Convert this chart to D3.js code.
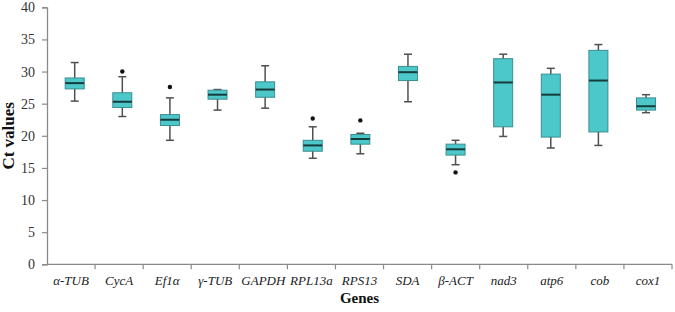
<!DOCTYPE html>
<html>
<head>
<meta charset="utf-8">
<script src="https://cdn.jsdelivr.net/npm/d3@7"></script>
<style>
  body { margin: 0; background: #fff; }
  svg { display: block; }
</style>
</head>
<body>
<script>
// Ct value boxplots per gene

const genes = ["α-TUB", "CycA", "Ef1α", "γ-TUB", "GAPDH", "RPL13a", "RPS13", "SDA", "β-ACT", "nad3", "atp6", "cob", "cox1"];
const whiskerLow  = [25.4, 23.0, 19.3, 24.0, 24.3, 16.5, 17.2, 25.3, 15.5, 19.9, 18.1, 18.5, 23.6];
const q1          = [27.3, 24.4, 21.6, 25.7, 26.0, 17.6, 18.7, 28.6, 17.0, 21.4, 19.8, 20.6, 24.0];
const median      = [28.2, 25.3, 22.5, 26.4, 27.2, 18.5, 19.5, 29.9, 17.9, 28.3, 26.4, 28.6, 24.6];
const q3          = [29.0, 26.7, 23.3, 27.1, 28.4, 19.3, 20.2, 30.8, 18.7, 32.0, 29.6, 33.3, 25.9];
const whiskerHigh = [31.4, 29.2, 25.9, 27.2, 30.9, 21.4, 20.4, 32.7, 19.3, 32.7, 30.5, 34.2, 26.4];
const outliers    = [null, 30.0, 27.6, null, null, 22.7, 22.4, null, 14.3, null, null, null, null];
const yTicks = [0, 5, 10, 15, 20, 25, 30, 35, 40];

const w = 675;
const h = 312;

const svg = d3.select("body")
    .append("svg")
    .attr("width", w)
    .attr("height", h);

const x = d3.scaleBand()
    .domain(genes)
    .range([47, 672]);

// boxes sit on a slightly narrower spacing than the axis ticks
const xc = d3.scalePoint()
    .domain(genes)
    .range([74.7, 646]);

const y = d3.scaleLinear()
    .domain([0, 40])
    .range([264.3, 7.3]);

const axisColor = "#8a8a8a";
const serif = "'Liberation Serif', 'Times New Roman', serif";

// y axis
const yAxis = svg.append("g")
    .attr("transform", "translate(47,0)")
    .call(d3.axisLeft(y).tickValues(yTicks).tickSize(5).tickPadding(7));
yAxis.select(".domain").attr("stroke", axisColor).attr("stroke-width", 1.3);
yAxis.selectAll(".tick line").attr("stroke", axisColor).attr("stroke-width", 1.2);
yAxis.selectAll(".tick text")
    .attr("fill", "#333")
    .style("font-family", serif)
    .style("font-size", "14px");

// x axis: ticks at band edges, labels at band centres
const xAxisG = svg.append("g").attr("transform", "translate(0," + y(0) + ")");
xAxisG.append("line")
    .attr("x1", 47).attr("x2", 672)
    .attr("stroke", axisColor).attr("stroke-width", 1.3);
const edges = genes.map(g => x(g)).concat([x(genes[genes.length - 1]) + x.bandwidth()]);
xAxisG.selectAll("line.tick")
    .data(edges.slice(1))
    .enter()
    .append("line")
    .attr("class", "tick")
    .attr("x1", d => d).attr("x2", d => d)
    .attr("y1", 0).attr("y2", 5)
    .attr("stroke", axisColor).attr("stroke-width", 1.2);
xAxisG.selectAll("text")
    .data(genes)
    .enter()
    .append("text")
    .attr("x", d => x(d) + x.bandwidth() / 2)
    .attr("y", 21)
    .attr("text-anchor", "middle")
    .attr("fill", "#222")
    .style("font-family", serif)
    .style("font-style", "italic")
    .style("font-size", "13px")
    .text(d => d);

// axis titles
svg.append("text")
    .attr("transform", "translate(14," + y(20) + ") rotate(-90)")
    .attr("text-anchor", "middle")
    .style("font-family", serif)
    .style("font-weight", "bold")
    .style("font-size", "17px")
    .attr("fill", "#111")
    .text("Ct values");

svg.append("text")
    .attr("x", (47 + 672) / 2)
    .attr("y", 303)
    .attr("text-anchor", "middle")
    .style("font-family", serif)
    .style("font-weight", "bold")
    .style("font-size", "15px")
    .attr("fill", "#111")
    .text("Genes");

// boxes
const boxW = 19;
const capW = 8;
const data = genes.map((g, i) => ({
    g: g, lo: whiskerLow[i], q1: q1[i], med: median[i], q3: q3[i], hi: whiskerHigh[i], out: outliers[i]
}));

const box = svg.selectAll("g.box")
    .data(data)
    .enter()
    .append("g")
    .attr("class", "box");

const whiskerColor = "#505050";

box.append("line")
    .attr("x1", d => xc(d.g)).attr("x2", d => xc(d.g))
    .attr("y1", d => y(d.hi)).attr("y2", d => y(d.lo))
    .attr("stroke", whiskerColor).attr("stroke-width", 1.5);

box.append("line")
    .attr("x1", d => xc(d.g) - capW / 2).attr("x2", d => xc(d.g) + capW / 2)
    .attr("y1", d => y(d.hi)).attr("y2", d => y(d.hi))
    .attr("stroke", whiskerColor).attr("stroke-width", 1.5);

box.append("line")
    .attr("x1", d => xc(d.g) - capW / 2).attr("x2", d => xc(d.g) + capW / 2)
    .attr("y1", d => y(d.lo)).attr("y2", d => y(d.lo))
    .attr("stroke", whiskerColor).attr("stroke-width", 1.5);

box.append("rect")
    .attr("x", d => xc(d.g) - boxW / 2)
    .attr("width", boxW)
    .attr("y", d => y(d.q3))
    .attr("height", d => y(d.q1) - y(d.q3))
    .attr("fill", "#4cc8ca")
    .attr("stroke", "#3b8e90")
    .attr("stroke-width", 1);

box.append("line")
    .attr("x1", d => xc(d.g) - boxW / 2).attr("x2", d => xc(d.g) + boxW / 2)
    .attr("y1", d => y(d.med)).attr("y2", d => y(d.med))
    .attr("stroke", "#163b3c").attr("stroke-width", 2);

box.filter(d => d.out !== null)
    .append("circle")
    .attr("cx", d => xc(d.g))
    .attr("cy", d => y(d.out))
    .attr("r", 2.2)
    .attr("fill", "#111");
</script>
</body>
</html>
